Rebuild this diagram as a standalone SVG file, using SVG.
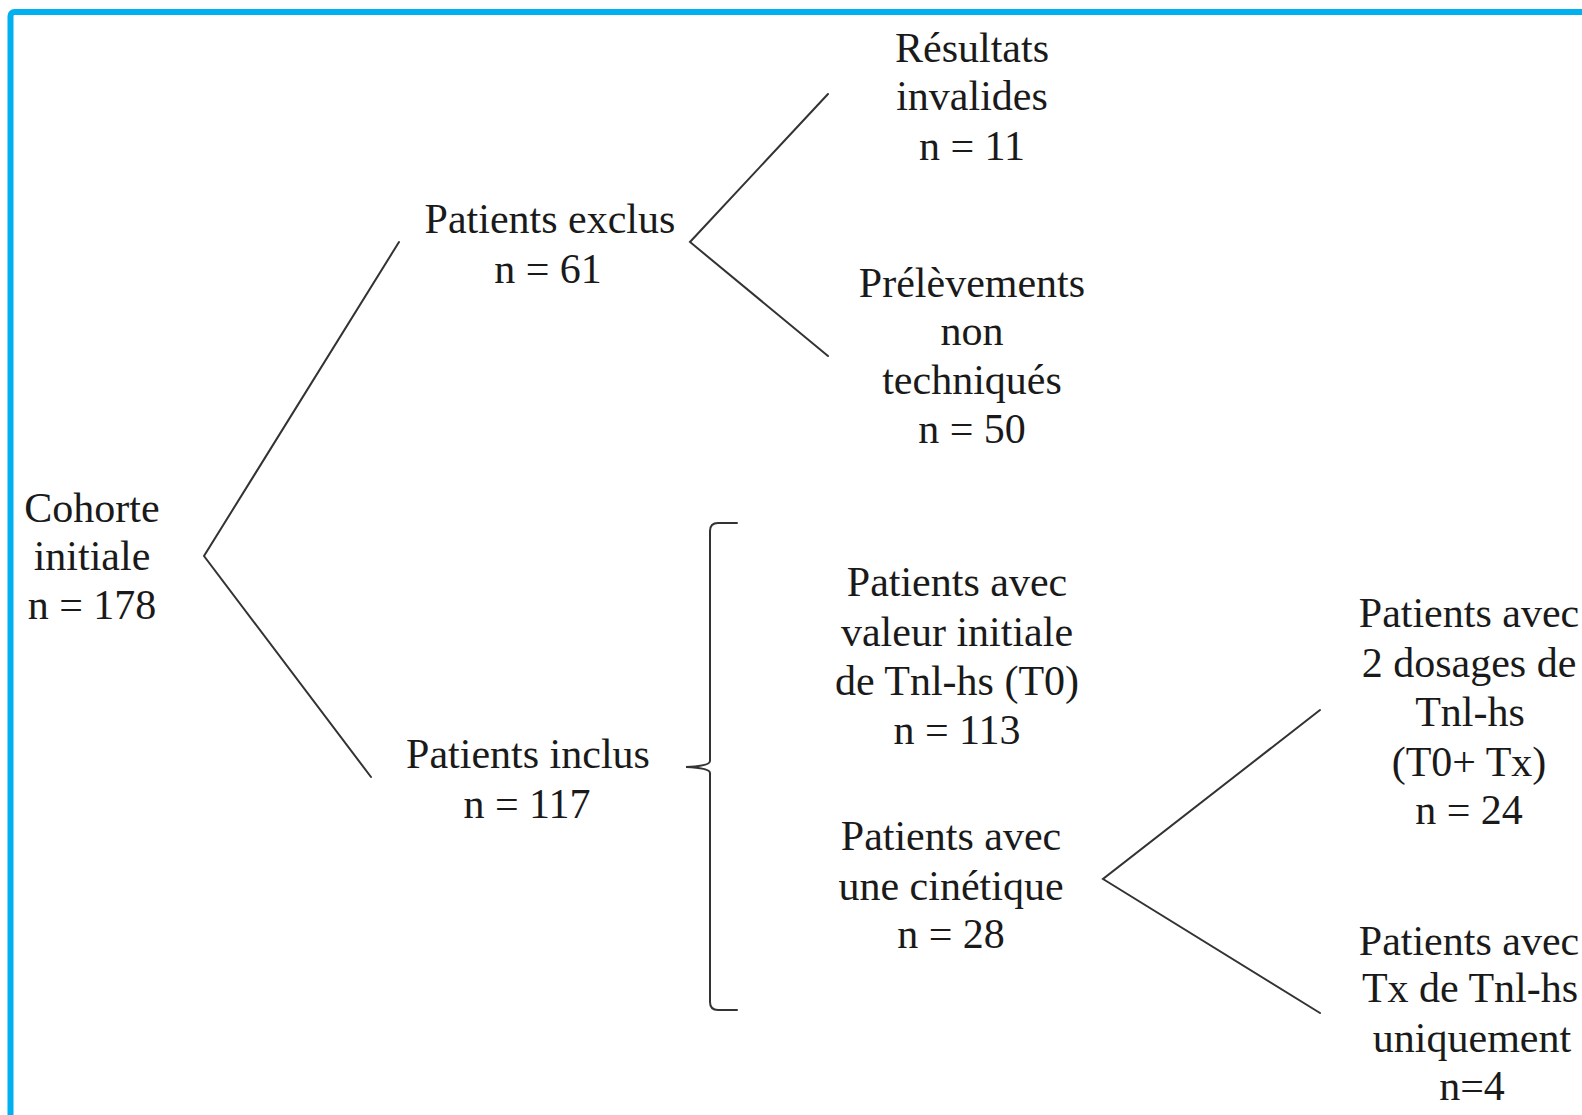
<svg xmlns="http://www.w3.org/2000/svg" width="1582" height="1115" viewBox="0 0 1582 1115">
<style>
text{font-family:"Liberation Serif","Times New Roman",serif;font-size:42px;fill:#1a1a1a;text-anchor:middle}
.ln{fill:none;stroke:#333;stroke-width:2;stroke-linecap:round;stroke-linejoin:miter}
</style>
<rect x="0" y="0" width="1582" height="1115" fill="#ffffff"/>
<rect x="10.5" y="12" width="1600" height="1140" rx="4" fill="none" stroke="#00b0f0" stroke-width="6"/>
<g id="connectors">
<polyline class="ln" points="399,242 204,556 371,777"/>
<polyline class="ln" points="828,94 690,242 828,356"/>
<polyline class="ln" points="1320,710 1103,879 1320,1013"/>
<path class="ln" d="M737,523 H718 Q710,523 710,531 V761 Q710,766 686,767 Q710,768 710,773 V1002 Q710,1010 718,1010 H737"/>
</g>
<g id="cohorte"><text x="92" y="522">Cohorte</text><text x="92" y="570">initiale</text><text x="92" y="619">n = 178</text></g>
<g id="exclus"><text x="550" y="233">Patients exclus</text><text x="548" y="283">n = 61</text></g>
<g id="invalides"><text x="972" y="62">Résultats</text><text x="972" y="110">invalides</text><text x="972" y="160">n = 11</text></g>
<g id="non-techniques"><text x="972" y="297">Prélèvements</text><text x="972" y="345">non</text><text x="972" y="394">techniqués</text><text x="972" y="443">n = 50</text></g>
<g id="inclus"><text x="528" y="768">Patients inclus</text><text x="527" y="818">n = 117</text></g>
<g id="t0"><text x="957" y="596">Patients avec</text><text x="957" y="646">valeur initiale</text><text x="957" y="695">de Tnl-hs (T0)</text><text x="957" y="744">n = 113</text></g>
<g id="cinetique"><text x="951" y="850">Patients avec</text><text x="951" y="900">une cinétique</text><text x="951" y="948">n = 28</text></g>
<g id="deux-dosages"><text x="1469" y="627">Patients avec</text><text x="1469" y="677">2 dosages de</text><text x="1470" y="726">Tnl-hs</text><text x="1469" y="776">(T0+ Tx)</text><text x="1469" y="824">n = 24</text></g>
<g id="tx-seul"><text x="1469" y="955">Patients avec</text><text x="1470" y="1002">Tx de Tnl-hs</text><text x="1472" y="1052">uniquement</text><text x="1472" y="1100">n=4</text></g>
</svg>
